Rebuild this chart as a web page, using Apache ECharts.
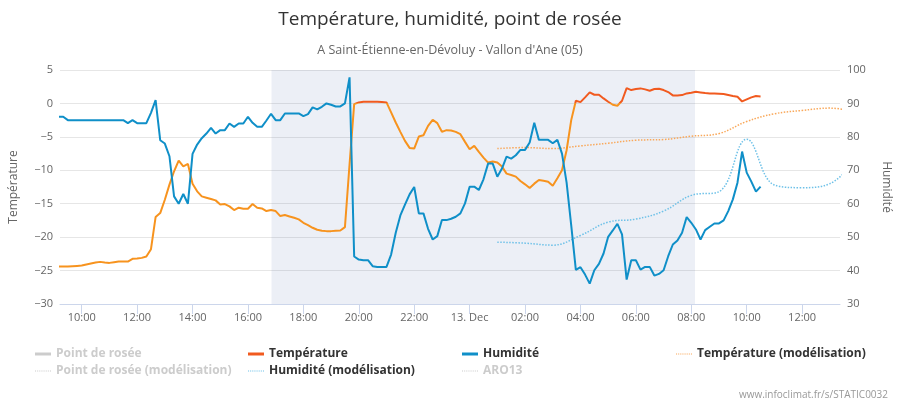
<!DOCTYPE html>
<html><head><meta charset="utf-8">
<script src="https://cdn.jsdelivr.net/npm/echarts@6/dist/echarts.min.js"></script>
<style>html,body{margin:0;padding:0;background:#fff}#chart{width:900px;height:400px}</style>
</head><body><div id="chart"></div>
<script>
// ---- data ----
const measureStart = '2024-12-12 09:10';
const measureStepMinutes = 10;
const temperature = [
  -24.4,-24.4,-24.4,-24.35,-24.3,
  -24.25,-24.1,-23.95,-23.8,-23.7,-23.8,
  -23.85,-23.75,-23.65,-23.65,-23.65,-23.25,
  -23.2,-23.1,-22.9,-21.8,-17.0,-16.4,
  -14.4,-12.15,-10.15,-8.55,-9.4,-9.05,
  -12.0,-13.15,-13.9,-14.1,-14.3,-14.5,
  -15.1,-15.05,-15.4,-15.95,-15.6,-15.75,
  -15.75,-15.05,-15.6,-15.7,-16.1,-15.95,
  -16.1,-16.85,-16.7,-16.9,-17.1,-17.35,
  -17.85,-18.2,-18.6,-18.9,-19.05,-19.1,
  -19.1,-19.05,-19.0,-18.5,-9.1,-0.1,
  0.15,0.25,0.25,0.25,0.25,0.2,
  0.15,-1.35,-2.85,-4.25,-5.6,-6.65,
  -6.75,-4.95,-4.75,-3.35,-2.45,-2.95,
  -4.25,-4.0,-4.05,-4.25,-4.6,-5.75,
  -6.85,-6.35,-7.25,-8.1,-8.85,-8.7,
  -8.85,-9.45,-10.5,-10.7,-10.95,-11.6,
  -12.1,-12.65,-12.0,-11.45,-11.55,-11.7,
  -12.3,-11.2,-10.0,-7.0,-2.5,0.4,
  0.2,0.9,1.65,1.3,1.3,0.75,
  0.25,-0.2,-0.35,0.4,2.3,2.0,
  2.15,2.25,2.1,1.9,2.15,2.2,
  2.0,1.7,1.2,1.2,1.25,1.5,
  1.6,1.75,1.65,1.55,1.5,1.5,
  1.45,1.4,1.25,1.1,1.0,0.3,
  0.6,0.9,1.1,1.05
];
const humidity = [
  86,86,85,85,85,
  85,85,85,85,85,85,
  85,85,85,85,84.1,85,
  84.1,84.1,84.1,87.2,91,79,
  78,74.2,62.2,60,62.9,60,
  74.9,77.7,79.6,81,82.7,81,
  82,82,84,83,84,84,
  86,84.2,83,83,84.9,86.9,
  85,85,87,87,87,87,
  86.2,86.8,88.8,88.2,89,90,
  89.6,89.1,89.1,90,97.8,44.2,
  43.3,43.1,43.1,41.3,41.1,41.1,
  41.1,44.8,51.3,56.5,59.7,62.8,
  65,57.1,57.1,52.5,49.3,50.3,
  55.1,55.1,55.5,56.1,57.1,60.1,
  65.1,65.1,64.1,67.3,72,72,
  68.1,70.5,74.1,73.5,74.5,76.1,
  76.1,78.3,84.2,79.1,79.1,79.1,
  78.1,79.1,75,66.3,53.5,40.2,
  41,38.8,36.1,40.1,42,45.1,
  50.1,52,54,50.8,37.3,43.1,
  43.1,40.3,41.1,41.1,38.5,39,
  40.1,44.3,47.8,49,51.3,56,
  54.3,52.3,49.3,52.1,53.1,54.1,
  54.1,55,57.8,61.3,66.3,75.6,
  69.3,66.6,63.6,65.1
];
const modelTimes = ['2024-12-13 01:00','2024-12-13 02:00','2024-12-13 03:00','2024-12-13 04:00','2024-12-13 05:00',
  '2024-12-13 06:00','2024-12-13 07:00','2024-12-13 08:00','2024-12-13 09:00','2024-12-13 10:00',
  '2024-12-13 11:00','2024-12-13 12:00','2024-12-13 13:00','2024-12-13 14:00'];
const temperatureModel = [-6.75,-6.6,-6.75,-6.35,-5.95,-5.5,-5.4,-4.9,-4.5,-2.7,-1.55,-1.05,-0.7,-1.3];
const humidityModel = [48.5,48.2,47.6,50.5,54.5,55.4,57.8,62.5,63.6,79.3,65.6,64.8,66.0,74];
const xTickTimes = ['2024-12-12 10:00','2024-12-12 12:00','2024-12-12 14:00','2024-12-12 16:00','2024-12-12 18:00',
  '2024-12-12 20:00','2024-12-12 22:00','2024-12-13 00:00','2024-12-13 02:00','2024-12-13 04:00',
  '2024-12-13 06:00','2024-12-13 08:00','2024-12-13 10:00','2024-12-13 12:00'];
const xMin = '2024-12-12 09:13';
const xMax = '2024-12-13 13:22';
const nightStart = '2024-12-12 16:51';
const nightEnd = '2024-12-13 08:08';
const tempZoneThreshold = 0;
const monthNames = ['Jan','Feb','Mar','Apr','May','Jun','Jul','Aug','Sep','Oct','Nov','Dec'];

// ---- helpers ----
function parseTime(s){
  const [d,t] = s.split(' ');
  const [Y,M,D] = d.split('-').map(Number);
  const [h,m] = t.split(':').map(Number);
  return new Date(Y, M-1, D, h, m).getTime();
}
const t0 = parseTime(measureStart);
const stepMs = measureStepMinutes * 60000;
const tempPairs = temperature.map((v,i)=>[t0 + i*stepMs, v]);
const humPairs = humidity.map((v,i)=>[t0 + i*stepMs, v]);
const tempModelPairs = modelTimes.map((t,i)=>[parseTime(t), temperatureModel[i]]);
const humModelPairs = modelTimes.map((t,i)=>[parseTime(t), humidityModel[i]]);
const ticks = xTickTimes.map(parseTime);
const pad = n => (n<10?'0':'')+n;

const RED = '#f15a1f', ORANGE = '#f7931e', BLUE = '#0f8fc8';
const TMOD = '#f9a85a', HMOD = '#6ec1e8';
const FONT = 'Open Sans';
const dotIcon = 'path://M0 0h1v1H0zM2 0h1v1H2zM4 0h1v1H4zM6 0h1v1H6zM8 0h1v1H8zM10 0h1v1H10zM12 0h1v1H12zM14 0h1v1H14z';

function legendItem(name, left, top, icon, color, selected){
  const l = {
    left: left, top: top, itemWidth: 16, itemHeight: icon === 'rect' ? 3 : 2, itemGap: 0,
    icon: icon, inactiveColor: '#cccccc',
    textStyle: {fontFamily: FONT, fontSize: 12, fontWeight: 'bold', color: '#333333'},
    data: [{name: name, icon: icon, itemStyle: {color: color}}]
  };
  if (selected === false) { l.selected = {}; l.selected[name] = false; }
  return l;
}
const minus = v => String(v).replace('-', '\u2212');

const chart = echarts.init(document.getElementById('chart'), null, {renderer: 'canvas'});
chart.setOption({
  animation: false,
  backgroundColor: '#ffffff',
  textStyle: {fontFamily: FONT},
  title: [
    {text: 'Température, humidité, point de rosée', left: 'center', top: 5,
     textStyle: {fontFamily: FONT, fontSize: 19, fontWeight: 'normal', color: '#333333'}},
    {text: "A Saint-Étienne-en-Dévoluy - Vallon d'Ane (05)", left: 'center', top: 39,
     textStyle: {fontFamily: FONT, fontSize: 12.5, fontWeight: 'normal', color: '#666666'}},
    {text: 'www.infoclimat.fr/s/STATIC0032', right: 7, top: 385,
     textStyle: {fontFamily: FONT, fontSize: 10, fontWeight: 'normal', color: '#999999'}}
  ],
  grid: {left: 55, right: 54, top: 70, bottom: 96},
  xAxis: {
    type: 'value', min: parseTime(xMin), max: parseTime(xMax),
    axisLine: {onZero: false, lineStyle: {color: '#ccd6eb'}},
    axisTick: {show: true, length: 10, lineStyle: {color: '#ccd6eb'}, customValues: ticks},
    axisLabel: {customValues: ticks, color: '#666666', fontSize: 11, margin: 8, fontFamily: FONT,
      formatter: function(v){
        const d = new Date(v);
        if (d.getHours() === 0 && d.getMinutes() === 0) return d.getDate() + '. ' + monthNames[d.getMonth()];
        return pad(d.getHours()) + ':' + pad(d.getMinutes());
      }},
    splitLine: {show: false}
  },
  yAxis: [
    {type: 'value', min: -30, max: 5, interval: 5, position: 'left',
     name: 'Température', nameLocation: 'middle', nameGap: 40, nameRotate: 90,
     nameTextStyle: {color: '#666666', fontSize: 12, fontFamily: FONT},
     axisLabel: {color: '#666666', fontSize: 11, margin: 7, fontFamily: FONT, formatter: minus},
     axisLine: {show: false}, axisTick: {show: false},
     splitLine: {lineStyle: {color: '#e6e6e6'}}},
    {type: 'value', min: 30, max: 100, interval: 10, position: 'right',
     name: 'Humidité', nameLocation: 'middle', nameGap: 40, nameRotate: -90,
     nameTextStyle: {color: '#666666', fontSize: 12, fontFamily: FONT},
     axisLabel: {color: '#666666', fontSize: 11, margin: 7, fontFamily: FONT},
     axisLine: {show: false}, axisTick: {show: false},
     splitLine: {show: false}}
  ],
  legend: [
    legendItem('Point de rosée', 30, 343, 'rect', '#cccccc', false),
    legendItem('Température', 243, 343, 'rect', RED, true),
    legendItem('Humidité', 457, 343, 'rect', BLUE, true),
    legendItem('Température (modélisation)', 671, 343, dotIcon, TMOD, true),
    legendItem('Point de rosée (modélisation)', 30, 360, dotIcon, '#cccccc', false),
    legendItem('Humidité (modélisation)', 243, 360, dotIcon, HMOD, true),
    legendItem('ARO13', 457, 360, dotIcon, '#cccccc', false)
  ],
  series: [
    {type: 'line', name: 'Point de rosée', data: [], color: '#aaaaaa'},
    {type: 'line', name: 'Température', data: tempPairs, yAxisIndex: 0, showSymbol: false, symbol: 'none',
     lineStyle: {width: 2, color: ORANGE}, color: RED, z: 3},
    {type: 'line', name: 'Humidité', data: humPairs, yAxisIndex: 1, showSymbol: false, symbol: 'none',
     lineStyle: {width: 2, color: BLUE}, color: BLUE, z: 4},
    {type: 'line', name: 'Température (modélisation)', data: tempModelPairs, yAxisIndex: 0, symbol: 'none',
     smooth: 0.4, lineStyle: {width: 1.5, type: [1.5, 1.5], color: TMOD}, color: TMOD, z: 2},
    {type: 'line', name: 'Point de rosée (modélisation)', data: [], color: '#aaaaaa'},
    {type: 'line', name: 'Humidité (modélisation)', data: humModelPairs, yAxisIndex: 1, symbol: 'none',
     smooth: 0.4, lineStyle: {width: 1.5, type: [1.5, 1.5], color: HMOD}, color: HMOD, z: 2,
     markArea: {silent: true, itemStyle: {color: 'rgba(18,55,143,0.08)'},
       data: [[{xAxis: parseTime(nightStart)}, {xAxis: parseTime(nightEnd)}]]}},
    {type: 'line', name: 'ARO13', data: [], color: '#aaaaaa'}
  ]
});

// temperature zones: red at/above the threshold, orange below; gradient in global pixel space via the axis scale
const yThreshold = chart.convertToPixel({yAxisIndex: 0}, tempZoneThreshold);
const gradTop = yThreshold - 1, gradBottom = yThreshold + 1;
chart.setOption({series: [{}, {
  lineStyle: {color: new echarts.graphic.LinearGradient(0, gradTop, 0, gradBottom, [
    {offset: 0, color: RED}, {offset: 0.5, color: RED},
    {offset: 0.5, color: ORANGE}, {offset: 1, color: ORANGE}
  ], true)}
}]});
</script>
</body></html>
